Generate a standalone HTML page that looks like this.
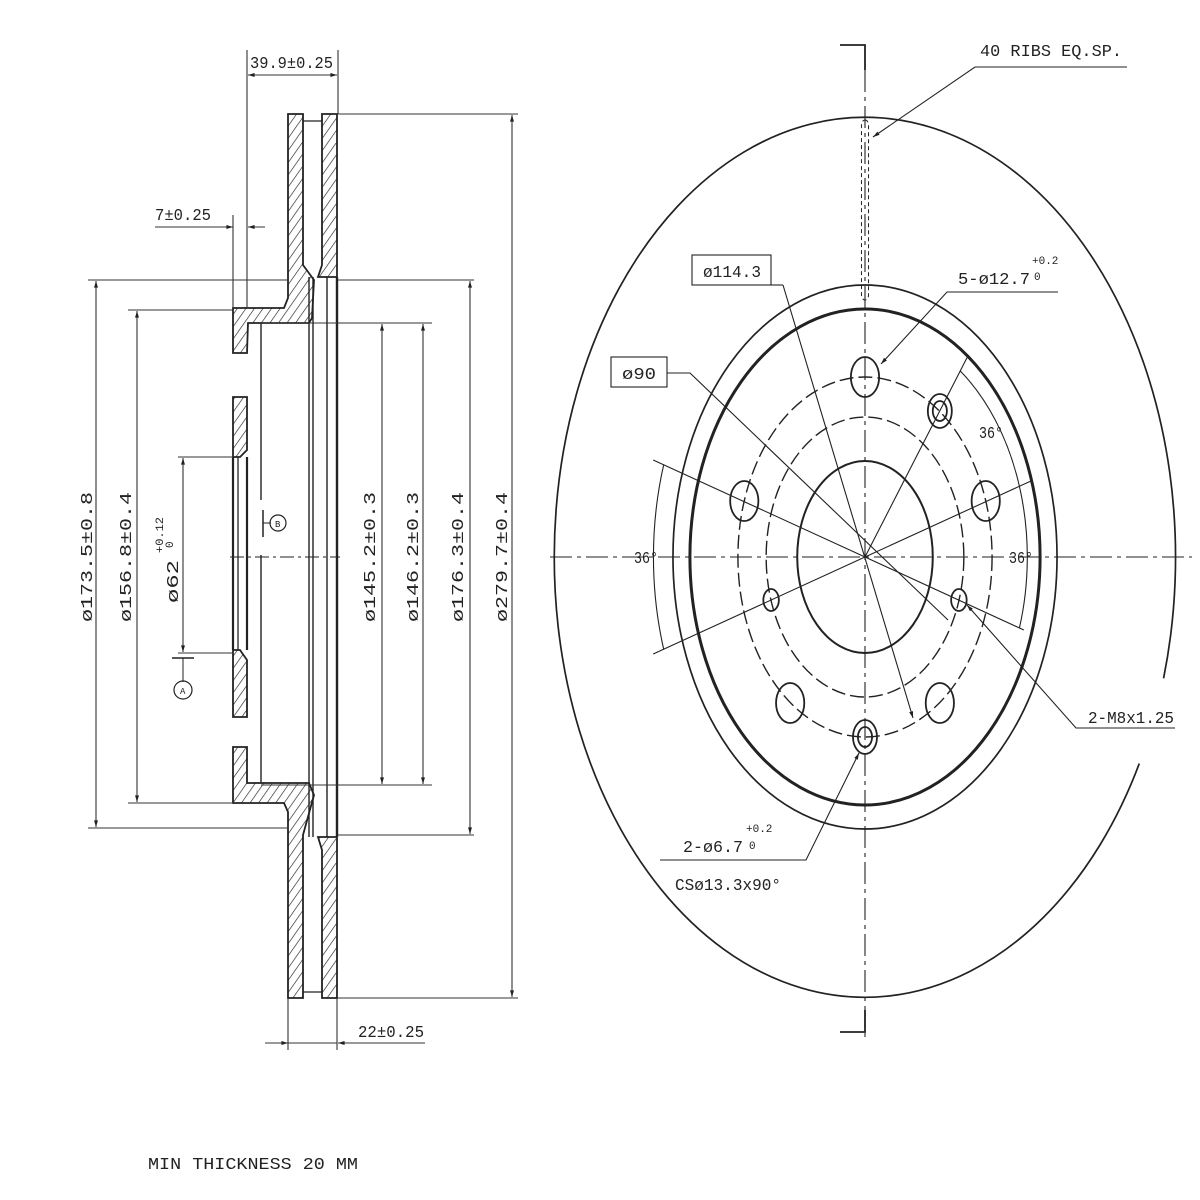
<!DOCTYPE html>
<html><head><meta charset="utf-8"><style>
html,body{margin:0;padding:0;background:#fff;}
svg{display:block;}
text{font-family:"Liberation Mono","DejaVu Sans Mono",monospace;fill:#222;}
</style></head><body>
<svg width="1200" height="1200" viewBox="0 0 1200 1200" xmlns="http://www.w3.org/2000/svg">
<defs>
<pattern id="h" width="7" height="7" patternUnits="userSpaceOnUse" patternTransform="rotate(35)">
<line x1="0" y1="0" x2="0" y2="7" stroke="#222" stroke-width="1.3"/>
</pattern>
<marker id="a" viewBox="0 0 10 10" refX="10" refY="5" markerWidth="9" markerHeight="6" orient="auto-start-reverse"><path d="M0,2 L10,5 L0,8 z" fill="#222"/></marker>
</defs>
<rect width="1200" height="1200" fill="#fff"/>

<!-- ===== LEFT SECTION VIEW ===== -->
<g stroke="#222" stroke-width="1.8" fill="url(#h)">
<polygon points="322,114 337,114 337,277 318,277 322,265"/>
<polygon points="288,114 303,114 303,265 314,280 312,318 309,323 248,323 247,353 233,353 233,308 284,308 288,298"/>
<polygon points="233,397 247,397 247,450 240,457 233,457"/>
<polygon points="233,650 240,650 247,660 247,717 233,717"/>
<polygon points="233,747 247,747 247,783 309,783 314,795 303,835 303,998 288,998 288,812 284,803 233,803"/>
<polygon points="322,837 337,837 337,998 322,998 322,850 318,837"/>
</g>
<g stroke="#222" fill="none">
<line x1="303" y1="121" x2="322" y2="121" stroke-width="1.2"/>
<line x1="303" y1="992" x2="322" y2="992" stroke-width="1.2"/>
<line x1="233" y1="457" x2="233" y2="650" stroke-width="2.2"/>
<line x1="238" y1="457" x2="238" y2="650" stroke-width="1.3"/>
<line x1="247" y1="457" x2="247" y2="650" stroke-width="2.2"/>
<line x1="261" y1="323" x2="261" y2="500" stroke-width="1.4"/>
<line x1="261" y1="555" x2="261" y2="783" stroke-width="1.4"/>
<line x1="309" y1="277" x2="309" y2="837" stroke-width="1.4"/>
<line x1="313" y1="277" x2="313" y2="837" stroke-width="1.4"/>
<line x1="327" y1="277" x2="327" y2="837" stroke-width="1.4"/>
<line x1="337" y1="277" x2="337" y2="837" stroke-width="2.4"/>
<line x1="230" y1="557" x2="340" y2="557" stroke-width="1" stroke-dasharray="14,4,3,4"/>
<line x1="263" y1="510" x2="263" y2="537" stroke-width="1.5"/>
<line x1="263" y1="523" x2="271" y2="523" stroke-width="1"/>
<circle cx="278" cy="523" r="8" stroke-width="1.2"/>
<line x1="172" y1="658" x2="194" y2="658" stroke-width="1.5"/>
<line x1="183" y1="658" x2="183" y2="682" stroke-width="1"/>
<circle cx="183" cy="690" r="9" stroke-width="1.2"/>
</g>
<g stroke="#333" stroke-width="1.1" fill="none">
<line x1="247" y1="50" x2="247" y2="308"/>
<line x1="338" y1="50" x2="338" y2="114"/>
<line x1="248" y1="75" x2="337" y2="75" marker-start="url(#a)" marker-end="url(#a)"/>
<line x1="233" y1="215" x2="233" y2="308"/>
<line x1="155" y1="227" x2="233" y2="227" marker-end="url(#a)"/>
<line x1="265" y1="227" x2="248" y2="227" marker-end="url(#a)"/>
<line x1="88" y1="280" x2="288" y2="280"/>
<line x1="88" y1="828" x2="288" y2="828"/>
<line x1="128" y1="310" x2="233" y2="310"/>
<line x1="128" y1="803" x2="233" y2="803"/>
<line x1="178" y1="457" x2="233" y2="457"/>
<line x1="178" y1="653" x2="233" y2="653"/>
<line x1="337" y1="114" x2="518" y2="114"/>
<line x1="337" y1="998" x2="518" y2="998"/>
<line x1="337" y1="280" x2="474" y2="280"/>
<line x1="337" y1="835" x2="474" y2="835"/>
<line x1="261" y1="323" x2="432" y2="323"/>
<line x1="261" y1="785" x2="432" y2="785"/>
<line x1="96" y1="281" x2="96" y2="827" marker-start="url(#a)" marker-end="url(#a)"/>
<line x1="137" y1="311" x2="137" y2="802" marker-start="url(#a)" marker-end="url(#a)"/>
<line x1="183" y1="458" x2="183" y2="652" marker-start="url(#a)" marker-end="url(#a)"/>
<line x1="382" y1="324" x2="382" y2="784" marker-start="url(#a)" marker-end="url(#a)"/>
<line x1="423" y1="324" x2="423" y2="784" marker-start="url(#a)" marker-end="url(#a)"/>
<line x1="470" y1="281" x2="470" y2="834" marker-start="url(#a)" marker-end="url(#a)"/>
<line x1="512" y1="115" x2="512" y2="997" marker-start="url(#a)" marker-end="url(#a)"/>
<line x1="288" y1="998" x2="288" y2="1050"/>
<line x1="337" y1="998" x2="337" y2="1050"/>
<line x1="265" y1="1043" x2="288" y2="1043" marker-end="url(#a)"/>
<line x1="288" y1="1043" x2="337" y2="1043"/>
<line x1="425" y1="1043" x2="338" y2="1043" marker-end="url(#a)"/>
</g>
<g font-size="17">
<text x="250" y="68" textLength="83" lengthAdjust="spacingAndGlyphs">39.9±0.25</text>
<text x="155" y="220" textLength="56" lengthAdjust="spacingAndGlyphs">7±0.25</text>
<text x="358" y="1037" textLength="66" lengthAdjust="spacingAndGlyphs">22±0.25</text>
<text transform="translate(92,622) rotate(-90)" textLength="130" lengthAdjust="spacingAndGlyphs">ø173.5±0.8</text>
<text transform="translate(131,622) rotate(-90)" textLength="130" lengthAdjust="spacingAndGlyphs">ø156.8±0.4</text>
<text transform="translate(178,603) rotate(-90)" textLength="43" lengthAdjust="spacingAndGlyphs">ø62</text>
<text transform="translate(375,622) rotate(-90)" textLength="130" lengthAdjust="spacingAndGlyphs">ø145.2±0.3</text>
<text transform="translate(418,622) rotate(-90)" textLength="130" lengthAdjust="spacingAndGlyphs">ø146.2±0.3</text>
<text transform="translate(463,622) rotate(-90)" textLength="130" lengthAdjust="spacingAndGlyphs">ø176.3±0.4</text>
<text transform="translate(507,622) rotate(-90)" textLength="130" lengthAdjust="spacingAndGlyphs">ø279.7±0.4</text>
<text x="148" y="1169" textLength="210" lengthAdjust="spacingAndGlyphs">MIN THICKNESS 20 MM</text>
</g>
<g font-size="11">
<text transform="translate(163,553) rotate(-90)" textLength="36" lengthAdjust="spacingAndGlyphs">+0.12</text>
<text transform="translate(173,548) rotate(-90)">0</text>
<text x="180" y="694" font-size="9">A</text>
<text x="275" y="527" font-size="9">B</text>
</g>

<!-- ===== RIGHT FRONT VIEW ===== -->
<g transform="translate(865,557) scale(0.706,1)" fill="none" stroke="#222">
<path d="M 388.5 206.6 A 440 440 0 1 1 422.9 121.3" stroke-width="1.7" vector-effect="non-scaling-stroke"/>
<circle r="272" stroke-width="1.7" vector-effect="non-scaling-stroke"/>
<circle r="248" stroke-width="3" vector-effect="non-scaling-stroke"/>
<circle r="96" stroke-width="2" vector-effect="non-scaling-stroke"/>
<circle r="180" stroke-width="1.4" stroke-dasharray="14,5" vector-effect="non-scaling-stroke"/>
<circle r="140" stroke-width="1.4" stroke-dasharray="14,5" vector-effect="non-scaling-stroke"/>
<g stroke-width="1.8">
<circle cx="0" cy="-180" r="20" vector-effect="non-scaling-stroke"/>
<circle cx="171" cy="-56" r="20" vector-effect="non-scaling-stroke"/>
<circle cx="-171" cy="-56" r="20" vector-effect="non-scaling-stroke"/>
<circle cx="106" cy="146" r="20" vector-effect="non-scaling-stroke"/>
<circle cx="-106" cy="146" r="20" vector-effect="non-scaling-stroke"/>
<circle cx="106" cy="-146" r="17" vector-effect="non-scaling-stroke"/>
<circle cx="106" cy="-146" r="10" vector-effect="non-scaling-stroke"/>
<circle cx="0" cy="180" r="17" vector-effect="non-scaling-stroke"/>
<circle cx="0" cy="180" r="10" vector-effect="non-scaling-stroke"/>
<circle cx="133" cy="43" r="11" vector-effect="non-scaling-stroke"/>
<circle cx="-133" cy="43" r="11" vector-effect="non-scaling-stroke"/>
</g>
<g stroke-width="1.1">
<line x1="0" y1="0" x2="-300" y2="-97" vector-effect="non-scaling-stroke"/>
<line x1="0" y1="0" x2="-300" y2="97" vector-effect="non-scaling-stroke"/>
<line x1="0" y1="0" x2="225" y2="73" vector-effect="non-scaling-stroke"/>
<line x1="0" y1="0" x2="235" y2="-76" vector-effect="non-scaling-stroke"/>
<line x1="0" y1="0" x2="145" y2="-200" vector-effect="non-scaling-stroke"/>
<path d="M -285 -92.6 A 300 300 0 0 0 -285 92.6" vector-effect="non-scaling-stroke"/>
<path d="M 135 -186 A 230 230 0 0 1 218.7 71" vector-effect="non-scaling-stroke"/>
</g>
<rect x="-5" y="-437" width="10" height="180" rx="5" stroke-width="1" stroke-dasharray="4,3" vector-effect="non-scaling-stroke"/>
</g>
<g stroke="#222" stroke-width="1.1" fill="none">
<line x1="550" y1="557" x2="1192" y2="557" stroke-dasharray="22,5,4,5"/>
<line x1="865" y1="70" x2="865" y2="1040" stroke-dasharray="22,5,4,5"/>
<path d="M 840 45 L 865 45 L 865 70" stroke-width="1.8"/>
<path d="M 840 1032 L 865 1032 L 865 1010" stroke-width="1.8"/>
<polyline points="1127,67 975,67 873,137" marker-end="url(#a)"/>
<rect x="692" y="255" width="79" height="30"/>
<line x1="771" y1="285" x2="783" y2="285"/>
<line x1="783" y1="285" x2="913" y2="718" marker-end="url(#a)"/>
<rect x="611" y="357" width="56" height="30"/>
<polyline points="667,373 690,373 948,620"/>
<polyline points="1058,292 947,292 881,364" marker-end="url(#a)"/>
<polyline points="1175,728 1076,728 967,605" marker-end="url(#a)"/>
<polyline points="660,860 806,860 859,753" marker-end="url(#a)"/>
</g>
<g font-size="17">
<text x="980" y="56" textLength="142" lengthAdjust="spacingAndGlyphs">40 RIBS EQ.SP.</text>
<text x="703" y="277" textLength="58" lengthAdjust="spacingAndGlyphs">ø114.3</text>
<text x="622" y="379" textLength="34" lengthAdjust="spacingAndGlyphs">ø90</text>
<text x="958" y="284" textLength="72" lengthAdjust="spacingAndGlyphs">5-ø12.7</text>
<text x="1088" y="723" textLength="86" lengthAdjust="spacingAndGlyphs">2-M8x1.25</text>
<text x="683" y="852" textLength="60" lengthAdjust="spacingAndGlyphs">2-ø6.7</text>
<text x="675" y="890" textLength="106" lengthAdjust="spacingAndGlyphs">CSø13.3x90°</text>
<text x="979" y="438" textLength="24" lengthAdjust="spacingAndGlyphs">36°</text>
<text x="634" y="563" textLength="24" lengthAdjust="spacingAndGlyphs">36°</text>
<text x="1009" y="563" textLength="24" lengthAdjust="spacingAndGlyphs">36°</text>
</g>
<g font-size="11">
<text x="1032" y="264">+0.2</text>
<text x="1034" y="280">0</text>
<text x="746" y="832">+0.2</text>
<text x="749" y="849">0</text>
</g>
</svg>
</body></html>
